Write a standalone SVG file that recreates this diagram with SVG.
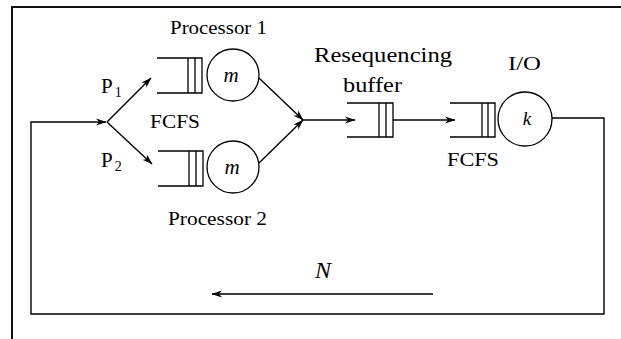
<svg xmlns="http://www.w3.org/2000/svg" width="621" height="339" viewBox="0 0 621 339">
<style>
.ln{fill:none;stroke:#000;stroke-width:1.4}
.q{fill:none;stroke:#000;stroke-width:1.3}
text{font-family:'Liberation Serif',Tinos,serif;fill:#000}
.i{font-style:italic}
</style>
<defs>
<marker id="ah" markerWidth="11" markerHeight="8" refX="10" refY="4" orient="auto" markerUnits="userSpaceOnUse">
<path d="M0,0.5 L10.5,4 L0,7.5 L3,4 z" fill="#000"/>
</marker>
</defs>
<rect width="621" height="339" fill="#fff"/>
<g id="frame">
<path d="M12,339 V7 H621" fill="none" stroke="#111" stroke-width="2"/>
</g>
<g id="connectors">
<path class="ln" d="M552,118 H604 V314 H31 V122 H106" marker-end="url(#ah)"/>
<line class="ln" x1="107" y1="122" x2="151" y2="78" marker-end="url(#ah)"/>
<line class="ln" x1="107" y1="122" x2="152" y2="164" marker-end="url(#ah)"/>
<line class="ln" x1="259" y1="78" x2="303" y2="120" marker-end="url(#ah)"/>
<line class="ln" x1="259" y1="163" x2="303" y2="120" marker-end="url(#ah)"/>
<line class="ln" x1="303" y1="120" x2="355" y2="120" marker-end="url(#ah)"/>
<line class="ln" x1="393" y1="120" x2="455" y2="120" marker-end="url(#ah)"/>
<line class="ln" x1="433" y1="294" x2="212" y2="294" marker-end="url(#ah)"/>
</g>
<g id="processor1">
<path class="q" d="M157,58 H202 V93 H157 M188,58 V93 M195,58 V93"/>
<circle class="q" cx="233" cy="75" r="26"/>
<text class="i" x="231" y="82" font-size="21" text-anchor="middle">m</text>
<text x="170" y="34" font-size="18.5" textLength="97" lengthAdjust="spacingAndGlyphs">Processor 1</text>
</g>
<g id="processor2">
<path class="q" d="M158,151 H203 V186 H158 M189,151 V186 M196,151 V186"/>
<circle class="q" cx="233" cy="167" r="26"/>
<text class="i" x="232" y="174" font-size="21" text-anchor="middle">m</text>
<text x="168" y="225" font-size="18.5" textLength="99" lengthAdjust="spacingAndGlyphs">Processor 2</text>
</g>
<g id="labels-left">
<text x="150" y="128" font-size="18.5" textLength="50" lengthAdjust="spacingAndGlyphs">FCFS</text>
<text x="101" y="93" font-size="21">P<tspan font-size="14" dx="2" dy="4">1</tspan></text>
<text x="101" y="167" font-size="21">P<tspan font-size="14" dx="2" dy="4">2</tspan></text>
</g>
<g id="resequencing-buffer">
<path class="q" d="M347,103 H393 V137 H347 M379,103 V137 M386,103 V137"/>
<text x="314" y="62" font-size="22" textLength="138" lengthAdjust="spacingAndGlyphs">Resequencing</text>
<text x="343" y="92" font-size="22" textLength="59" lengthAdjust="spacingAndGlyphs">buffer</text>
</g>
<g id="io">
<path class="q" d="M450,103 H495 V137 H450 M482,103 V137 M488,103 V137"/>
<circle class="q" cx="525" cy="119" r="27"/>
<text class="i" x="527" y="125" font-size="19" text-anchor="middle">k</text>
<text x="508" y="70" font-size="19" textLength="33" lengthAdjust="spacingAndGlyphs">I/O</text>
<text x="447" y="166" font-size="18.5" textLength="52" lengthAdjust="spacingAndGlyphs">FCFS</text>
</g>
<g id="loop-label">
<text class="i" x="323" y="278" font-size="24" text-anchor="middle">N</text>
</g>
</svg>
